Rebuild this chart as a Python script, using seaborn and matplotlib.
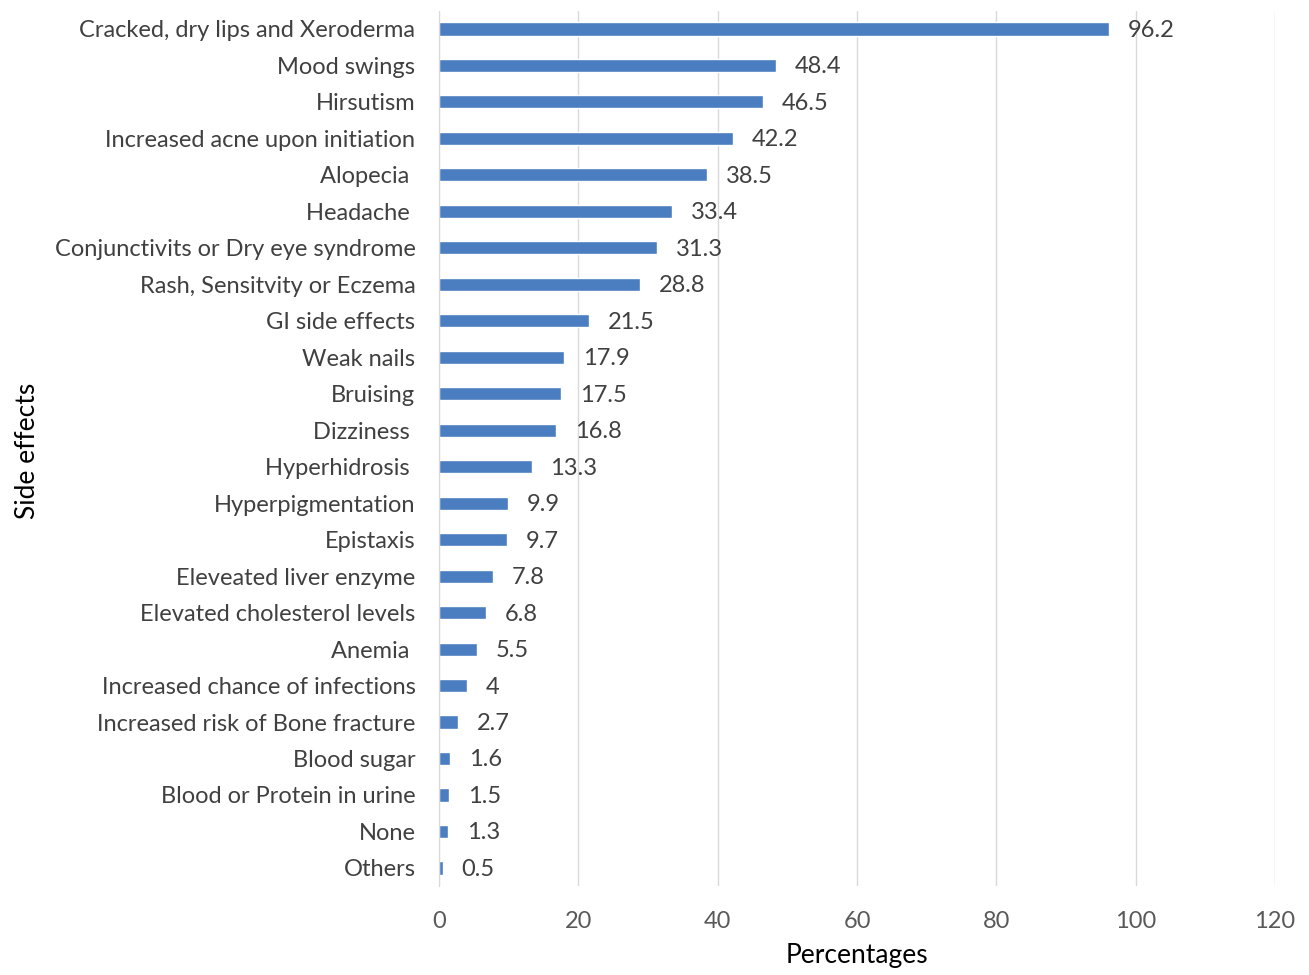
import matplotlib
matplotlib.use("Agg")
import matplotlib.pyplot as plt
import seaborn as sns
import pandas as pd

categories = [
    "Cracked, dry lips and Xeroderma", "Mood swings", "Hirsutism",
    "Increased acne upon initiation", "Alopecia ", "Headache ",
    "Conjunctivits or Dry eye syndrome", "Rash, Sensitvity or Eczema",
    "GI side effects", "Weak nails", "Bruising", "Dizziness ",
    "Hyperhidrosis ", "Hyperpigmentation", "Epistaxis",
    "Eleveated liver enzyme", "Elevated cholesterol levels", "Anemia ",
    "Increased chance of infections", "Increased risk of Bone fracture",
    "Blood sugar", "Blood or Protein in urine", "None", "Others",
]
values = [96.2, 48.4, 46.5, 42.2, 38.5, 33.4, 31.3, 28.8, 21.5, 17.9, 17.5,
          16.8, 13.3, 9.9, 9.7, 7.8, 6.8, 5.5, 4, 2.7, 1.6, 1.5, 1.3, 0.5]
value_labels = ["96.2", "48.4", "46.5", "42.2", "38.5", "33.4", "31.3", "28.8",
                "21.5", "17.9", "17.5", "16.8", "13.3", "9.9", "9.7", "7.8",
                "6.8", "5.5", "4", "2.7", "1.6", "1.5", "1.3", "0.5"]
x_ticks = [0, 20, 40, 60, 80, 100, 120]

df = pd.DataFrame({"cat": categories, "val": values})

sns.set_style("white")
plt.rcParams["font.family"] = ["Lato", "DejaVu Sans"]

fig = plt.figure(figsize=(13.09, 9.75), dpi=100)
ax = fig.add_axes([0.3354, 0.0911, 0.6386, 0.8979])

sns.barplot(data=df, x="val", y="cat", orient="h", color="#4A7EC0",
            saturation=1, width=0.36, ax=ax)

for i, (v, lab) in enumerate(zip(values, value_labels)):
    ax.text(v + 2.7, i + 0.04, lab, va="center", ha="left", fontsize=17,
            color="#404040")

ax.set_xlim(0, 120)
ax.set_ylim(23.5, -0.5)
ax.set_xticks(x_ticks)
ax.set_xticklabels([str(t) for t in x_ticks])
ax.xaxis.grid(True, color="#D9D9D9", linewidth=1)
ax.set_axisbelow(True)
for s in ["top", "right", "bottom"]:
    ax.spines[s].set_visible(False)
ax.spines["left"].set_color("#D9D9D9")
ax.tick_params(axis="x", labelsize=17, colors="#595959", length=0, pad=18)
ax.tick_params(axis="y", labelsize=17, colors="#404040", length=0, pad=17)
ax.set_xlabel("Percentages", fontsize=19, color="black", labelpad=8)
ax.set_ylabel("")
fig.text(0.021, 0.538, "Side effects", rotation=90, fontsize=19,
         ha="center", va="center", color="black")

fig.savefig("out.png", dpi=100)
